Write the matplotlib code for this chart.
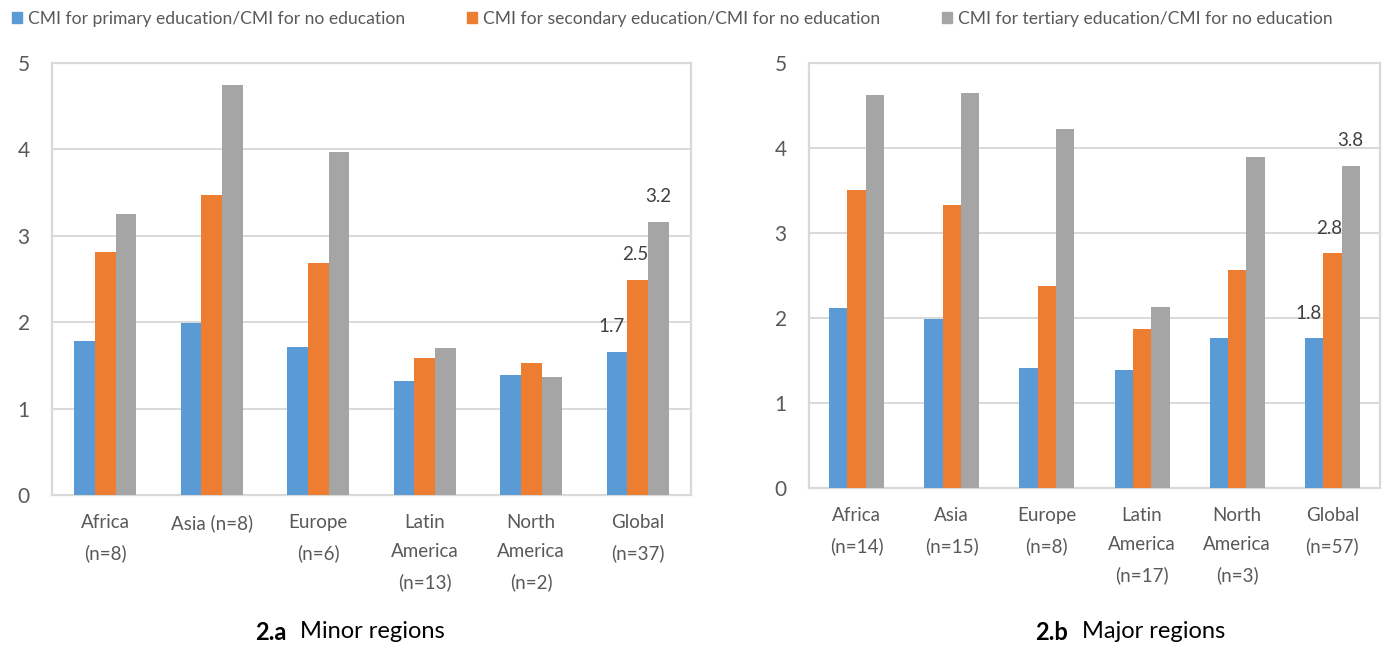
import numpy as np
import matplotlib.pyplot as plt
from matplotlib.patches import Patch

plt.rcParams['font.family'] = ['Lato', 'DejaVu Sans']

# Series names
series = [
    "CMI for primary education/CMI for no education",
    "CMI for secondary education/CMI for no education",
    "CMI for tertiary education/CMI for no education",
]
colors = ["#5B9BD5", "#ED7D31", "#A5A5A5"]

# 2.a Minor regions
minor_cats = ["Africa\n(n=8)", "Asia (n=8)", "Europe\n(n=6)",
              "Latin\nAmerica\n(n=13)", "North\nAmerica\n(n=2)", "Global\n(n=37)"]
minor_primary = [1.78, 1.99, 1.71, 1.32, 1.39, 1.66]
minor_secondary = [2.81, 3.47, 2.68, 1.58, 1.53, 2.49]
minor_tertiary = [3.25, 4.75, 3.97, 1.70, 1.37, 3.16]

# 2.b Major regions
major_cats = ["Africa\n(n=14)", "Asia\n(n=15)", "Europe\n(n=8)",
              "Latin\nAmerica\n(n=17)", "North\nAmerica\n(n=3)", "Global\n(n=57)"]
major_primary = [2.12, 1.99, 1.41, 1.39, 1.77, 1.76]
major_secondary = [3.50, 3.33, 2.38, 1.87, 2.56, 2.76]
major_tertiary = [4.62, 4.65, 4.22, 2.13, 3.89, 3.79]

fig = plt.figure(figsize=(13.9, 6.48), dpi=100)
ax1 = fig.add_axes([0.0374, 0.2361, 0.4597, 0.6667])
ax2 = fig.add_axes([0.5820, 0.2469, 0.4108, 0.6559])

grid_col = "#D9D9D9"
w = 0.193
label_dx = [-4, -2, 0]   # small sideways nudge of the value labels


def draw_panel(ax, cats, data):
    x = np.arange(len(cats))
    for i, vals in enumerate(data):
        ax.bar(x + (i - 1) * w, vals, width=w, color=colors[i], zorder=3)
        # data label on the Global group only
        ax.annotate(f"{vals[-1]:.1f}", xy=(x[-1] + (i - 1) * w, vals[-1]),
                    xytext=(label_dx[i], 18), textcoords="offset points",
                    ha="center", va="center", fontsize=13.5, color="#404040")
    ax.set_xlim(-0.5, len(cats) - 0.5)
    ax.set_ylim(0, 5)
    ax.set_yticks(range(6))
    ax.set_xticks(x)
    ax.set_xticklabels(cats, linespacing=1.85)
    ax.tick_params(axis="x", length=0, pad=14, labelsize=13.5, labelcolor="#595959")
    ax.tick_params(axis="y", length=0, pad=16, labelsize=15, labelcolor="#595959")
    ax.grid(axis="y", color=grid_col, lw=1.4, zorder=0)
    for s in ax.spines.values():
        s.set_color(grid_col)
        s.set_linewidth(1.6)


draw_panel(ax1, minor_cats, [minor_primary, minor_secondary, minor_tertiary])
draw_panel(ax2, major_cats, [major_primary, major_secondary, major_tertiary])

handles = [Patch(color=c) for c in colors]
fig.legend(handles, series, loc="center left", bbox_to_anchor=(0.0085, 0.971),
           ncol=3, frameon=False, fontsize=12.6, labelcolor="#595959",
           handlelength=0.6, handleheight=0.6, handletextpad=0.35,
           columnspacing=3.5, borderpad=0, borderaxespad=0)

# Panel captions
fig.text(287 / 1390, 1 - 632 / 648, "2.a", fontsize=17, fontweight="bold",
         ha="right", va="center")
fig.text(300 / 1390, 1 - 632 / 648, "Minor regions", fontsize=17,
         ha="left", va="center")
fig.text(1068 / 1390, 1 - 632 / 648, "2.b", fontsize=17, fontweight="bold",
         ha="right", va="center")
fig.text(1082 / 1390, 1 - 632 / 648, "Major regions", fontsize=17,
         ha="left", va="center")

plt.savefig("out.png", dpi=100)
